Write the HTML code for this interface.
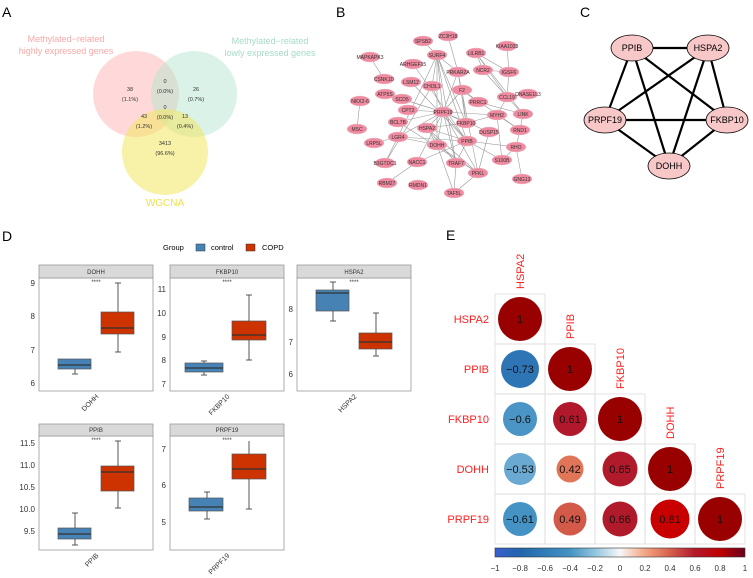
<!DOCTYPE html>
<html><head><meta charset="utf-8"><style>
html,body{margin:0;padding:0;background:#fff}
svg{display:block;font-family:"Liberation Sans",Arial,sans-serif}
</style></head><body>
<svg width="753" height="578" viewBox="0 0 753 578" xmlns="http://www.w3.org/2000/svg">
<g font-size="14" fill="#000">
<text x="2" y="17">A</text><text x="336" y="17">B</text><text x="580" y="17">C</text>
<text x="2" y="241">D</text><text x="446" y="240">E</text>
</g>
<circle cx="136" cy="94" r="43" fill="#ffb3b3" fill-opacity="0.5"/>
<circle cx="194" cy="94" r="43" fill="#b5e6cf" fill-opacity="0.5"/>
<circle cx="165" cy="152" r="43" fill="#f2e660" fill-opacity="0.55"/>
<g font-size="9" text-anchor="middle">
<text x="66" y="42" fill="#f7a9a9">Methylated−related</text>
<text x="66" y="54" fill="#f7a9a9">highly expressed genes</text>
<text x="270" y="44" fill="#a6dcc4">Methylated−related</text>
<text x="270" y="56" fill="#a6dcc4">lowly expressed genes</text>
<text x="165" y="206" fill="#efe04a" font-size="10">WGCNA</text>
</g>
<g font-size="5.5" text-anchor="middle" fill="#333">
<text x="130" y="91">38</text><text x="130" y="101">(1.1%)</text>
<text x="165" y="83">0</text><text x="165" y="93">(0.0%)</text>
<text x="196" y="91">26</text><text x="196" y="101">(0.7%)</text>
<text x="165" y="109">0</text><text x="165" y="119">(0.0%)</text>
<text x="144" y="118">43</text><text x="144" y="128">(1.2%)</text>
<text x="185" y="118">13</text><text x="185" y="128">(0.4%)</text>
<text x="165" y="145">3413</text><text x="165" y="155">(96.6%)</text>
</g>
<g stroke="#999" stroke-width="0.6">
<line x1="370" y1="57" x2="384" y2="79"/><line x1="360" y1="101" x2="357" y2="129"/>
<line x1="443" y1="112" x2="437" y2="55"/><line x1="443" y1="112" x2="432" y2="86"/><line x1="443" y1="112" x2="458" y2="72"/><line x1="443" y1="112" x2="462" y2="90"/><line x1="443" y1="112" x2="408" y2="110"/><line x1="443" y1="112" x2="427" y2="128"/><line x1="443" y1="112" x2="466" y2="123"/><line x1="443" y1="112" x2="467" y2="141"/><line x1="443" y1="112" x2="437" y2="145"/><line x1="443" y1="112" x2="456" y2="163"/><line x1="443" y1="112" x2="478" y2="173"/><line x1="443" y1="112" x2="398" y2="137"/><line x1="443" y1="112" x2="398" y2="122"/><line x1="443" y1="112" x2="497" y2="115"/><line x1="443" y1="112" x2="489" y2="132"/><line x1="443" y1="112" x2="385" y2="94"/><line x1="443" y1="112" x2="402" y2="99"/><line x1="443" y1="112" x2="417" y2="162"/>
<line x1="437" y1="55" x2="458" y2="72"/><line x1="437" y1="55" x2="432" y2="86"/><line x1="437" y1="55" x2="467" y2="141"/><line x1="437" y1="55" x2="456" y2="163"/><line x1="437" y1="55" x2="437" y2="145"/><line x1="437" y1="55" x2="466" y2="123"/><line x1="437" y1="55" x2="398" y2="137"/>
<line x1="448" y1="36" x2="458" y2="72"/><line x1="423" y1="41" x2="437" y2="55"/><line x1="413" y1="64" x2="467" y2="141"/>
<line x1="476" y1="53" x2="483" y2="70"/><line x1="476" y1="53" x2="509" y2="72"/><line x1="476" y1="53" x2="507" y2="97"/><line x1="476" y1="53" x2="523" y2="114"/><line x1="483" y1="70" x2="507" y2="97"/><line x1="483" y1="70" x2="509" y2="72"/><line x1="507" y1="46" x2="509" y2="72"/><line x1="509" y1="72" x2="507" y2="97"/><line x1="507" y1="97" x2="528" y2="94"/><line x1="507" y1="97" x2="523" y2="114"/><line x1="507" y1="97" x2="497" y2="115"/><line x1="523" y1="114" x2="520" y2="130"/><line x1="497" y1="115" x2="520" y2="130"/><line x1="497" y1="115" x2="466" y2="123"/><line x1="520" y1="130" x2="516" y2="147"/><line x1="516" y1="147" x2="467" y2="141"/><line x1="516" y1="147" x2="522" y2="179"/><line x1="516" y1="147" x2="502" y2="160"/><line x1="489" y1="132" x2="478" y2="173"/><line x1="502" y1="160" x2="467" y2="141"/><line x1="478" y1="173" x2="454" y2="193"/><line x1="456" y1="163" x2="454" y2="193"/><line x1="478" y1="173" x2="427" y2="128"/><line x1="456" y1="163" x2="467" y2="141"/><line x1="417" y1="162" x2="387" y2="183"/><line x1="417" y1="162" x2="467" y2="141"/><line x1="398" y1="137" x2="467" y2="141"/><line x1="398" y1="137" x2="385" y2="163"/><line x1="432" y1="86" x2="385" y2="163"/><line x1="411" y1="82" x2="467" y2="141"/><line x1="462" y1="90" x2="478" y2="102"/><line x1="462" y1="90" x2="466" y2="123"/><line x1="462" y1="90" x2="520" y2="130"/><line x1="458" y1="72" x2="466" y2="123"/><line x1="458" y1="72" x2="478" y2="173"/><line x1="478" y1="102" x2="523" y2="114"/><line x1="427" y1="128" x2="437" y2="145"/><line x1="427" y1="128" x2="467" y2="141"/><line x1="427" y1="128" x2="466" y2="123"/><line x1="437" y1="145" x2="478" y2="173"/><line x1="437" y1="145" x2="454" y2="193"/><line x1="398" y1="122" x2="478" y2="173"/><line x1="398" y1="137" x2="437" y2="145"/><line x1="502" y1="160" x2="497" y2="115"/><line x1="427" y1="128" x2="456" y2="163"/><line x1="374" y1="143" x2="398" y2="137"/>
</g>
<g fill="#f08aa0" stroke="#e8c0c8" stroke-width="0.5">
<ellipse cx="448" cy="36" rx="10" ry="5"/><ellipse cx="423" cy="41" rx="10" ry="5"/><ellipse cx="370" cy="57" rx="10" ry="5"/><ellipse cx="437" cy="55" rx="10" ry="5"/><ellipse cx="476" cy="53" rx="10" ry="5"/><ellipse cx="507" cy="46" rx="10" ry="5"/><ellipse cx="413" cy="64" rx="10" ry="5"/><ellipse cx="458" cy="72" rx="10" ry="5"/><ellipse cx="483" cy="70" rx="10" ry="5"/><ellipse cx="509" cy="72" rx="10" ry="5"/><ellipse cx="384" cy="79" rx="10" ry="5"/><ellipse cx="411" cy="82" rx="10" ry="5"/><ellipse cx="432" cy="86" rx="10" ry="5"/><ellipse cx="462" cy="90" rx="10" ry="5"/><ellipse cx="385" cy="94" rx="10" ry="5"/><ellipse cx="402" cy="99" rx="10" ry="5"/><ellipse cx="507" cy="97" rx="10" ry="5"/><ellipse cx="528" cy="94" rx="10" ry="5"/><ellipse cx="360" cy="101" rx="10" ry="5"/><ellipse cx="478" cy="102" rx="10" ry="5"/><ellipse cx="408" cy="110" rx="10" ry="5"/><ellipse cx="443" cy="112" rx="10" ry="5"/><ellipse cx="497" cy="115" rx="10" ry="5"/><ellipse cx="523" cy="114" rx="10" ry="5"/><ellipse cx="398" cy="122" rx="10" ry="5"/><ellipse cx="466" cy="123" rx="10" ry="5"/><ellipse cx="427" cy="128" rx="10" ry="5"/><ellipse cx="489" cy="132" rx="10" ry="5"/><ellipse cx="520" cy="130" rx="10" ry="5"/><ellipse cx="357" cy="129" rx="10" ry="5"/><ellipse cx="398" cy="137" rx="10" ry="5"/><ellipse cx="467" cy="141" rx="10" ry="5"/><ellipse cx="437" cy="145" rx="10" ry="5"/><ellipse cx="374" cy="143" rx="10" ry="5"/><ellipse cx="516" cy="147" rx="10" ry="5"/><ellipse cx="502" cy="160" rx="10" ry="5"/><ellipse cx="385" cy="163" rx="10" ry="5"/><ellipse cx="417" cy="162" rx="10" ry="5"/><ellipse cx="456" cy="163" rx="10" ry="5"/><ellipse cx="478" cy="173" rx="10" ry="5"/><ellipse cx="522" cy="179" rx="10" ry="5"/><ellipse cx="387" cy="183" rx="10" ry="5"/><ellipse cx="418" cy="185" rx="10" ry="5"/><ellipse cx="454" cy="193" rx="10" ry="5"/>
</g>
<g font-size="5" fill="#333" text-anchor="middle">
<text x="448" y="38">ZC3H18</text><text x="423" y="43">SPSB2</text><text x="370" y="59">MAPKAPK3</text><text x="437" y="57">SURF4</text><text x="476" y="55">LILRB1</text><text x="507" y="48">KIAA1033</text><text x="413" y="66">ARHGEF15</text><text x="458" y="74">PRKAR2A</text><text x="483" y="72">NCR2</text><text x="509" y="74">IGSF6</text><text x="384" y="81">CSNK1D</text><text x="411" y="84">LSM12</text><text x="432" y="88">CHI3L1</text><text x="462" y="92">F2</text><text x="385" y="96">ATP5S</text><text x="402" y="101">SCD5</text><text x="507" y="99">CCL19</text><text x="528" y="96">DNASE1L3</text><text x="360" y="103">NKX2-6</text><text x="478" y="104">PRRC1</text><text x="408" y="112">CPT2</text><text x="443" y="114">PRPF19</text><text x="497" y="117">MYH2</text><text x="523" y="116">LINK</text><text x="398" y="124">BCL7B</text><text x="466" y="125">FKBP10</text><text x="427" y="130">HSPA2</text><text x="489" y="134">DUSP15</text><text x="520" y="132">RND1</text><text x="357" y="131">MSC</text><text x="398" y="139">LGR4</text><text x="467" y="143">PPIB</text><text x="437" y="147">DOHH</text><text x="374" y="145">LRP5L</text><text x="516" y="149">RHO</text><text x="502" y="162">S100B</text><text x="385" y="165">B3GTDC1</text><text x="417" y="164">NACC1</text><text x="456" y="165">TRAF7</text><text x="478" y="175">PFKL</text><text x="522" y="181">GNG13</text><text x="387" y="185">RBM27</text><text x="418" y="187">RMDN1</text><text x="454" y="195">TAF5L</text>
</g>
<g stroke="#000" stroke-width="2.2">
<line x1="632" y1="48" x2="708" y2="48"/><line x1="632" y1="48" x2="605" y2="120"/><line x1="632" y1="48" x2="727" y2="120"/><line x1="632" y1="48" x2="669" y2="166"/><line x1="708" y1="48" x2="605" y2="120"/><line x1="708" y1="48" x2="727" y2="120"/><line x1="708" y1="48" x2="669" y2="166"/><line x1="605" y1="120" x2="727" y2="120"/><line x1="605" y1="120" x2="669" y2="166"/><line x1="727" y1="120" x2="669" y2="166"/>
</g>
<g fill="#f8c8c8" stroke="#000" stroke-width="0.8">
<ellipse cx="632" cy="48" rx="21" ry="13"/><ellipse cx="708" cy="48" rx="21" ry="13"/><ellipse cx="605" cy="120" rx="21" ry="13"/><ellipse cx="727" cy="120" rx="21" ry="13"/><ellipse cx="669" cy="166" rx="21" ry="13"/>
</g>
<g font-size="9" text-anchor="middle" fill="#000">
<text x="632" y="51">PPIB</text><text x="708" y="51">HSPA2</text><text x="605" y="123">PRPF19</text><text x="727" y="123">FKBP10</text><text x="669" y="169">DOHH</text>
</g>
<g font-size="7.5" fill="#000">
<text x="163" y="250">Group</text>
<rect x="196" y="244" width="9" height="7" fill="#4682b4" stroke="#333" stroke-width="0.5"/>
<text x="211" y="250">control</text>
<rect x="246" y="244" width="9" height="7" fill="#cc3300" stroke="#333" stroke-width="0.5"/>
<text x="262" y="250">COPD</text>
</g>
<g fill="none" stroke="#999" stroke-width="0.8">
<rect x="39" y="278" width="114" height="113"/><rect x="170" y="278" width="114" height="113"/><rect x="297" y="278" width="114" height="113"/>
<rect x="39" y="436" width="114" height="114"/><rect x="170" y="436" width="114" height="114"/>
</g>
<g fill="#d9d9d9" stroke="#999" stroke-width="0.8">
<rect x="39" y="265" width="114" height="13"/><rect x="170" y="265" width="114" height="13"/><rect x="297" y="265" width="114" height="13"/>
<rect x="39" y="424" width="114" height="12"/><rect x="170" y="424" width="114" height="12"/>
</g>
<g font-size="6" fill="#333" text-anchor="middle">
<text x="96" y="274">DOHH</text><text x="227" y="274">FKBP10</text><text x="354" y="274">HSPA2</text>
<text x="96" y="432">PPIB</text><text x="227" y="432">PRPF19</text>
<text x="96" y="284">****</text><text x="227" y="284">****</text><text x="354" y="284">****</text>
<text x="96" y="442">****</text><text x="227" y="442">****</text>
</g>
<g font-size="8" fill="#333" text-anchor="end">
<text x="35" y="286">9</text><text x="35" y="319">8</text><text x="35" y="353">7</text><text x="35" y="386">6</text>
<text x="166" y="292">11</text><text x="166" y="316">10</text><text x="166" y="340">9</text><text x="166" y="363">8</text><text x="166" y="387">7</text>
<text x="293" y="312">8</text><text x="293" y="345">7</text><text x="293" y="377">6</text>
<text x="35" y="446">11.5</text><text x="35" y="468">11.0</text><text x="35" y="490">10.5</text><text x="35" y="512">10.0</text><text x="35" y="534">9.5</text>
<text x="166" y="452">7</text><text x="166" y="488">6</text><text x="166" y="525">5</text>
</g>
<g font-size="7" fill="#333" text-anchor="end">
<text transform="translate(99,397) rotate(-45)">DOHH</text>
<text transform="translate(230,397) rotate(-45)">FKBP10</text>
<text transform="translate(357,397) rotate(-45)">HSPA2</text>
<text transform="translate(99,556) rotate(-45)">PPIB</text>
<text transform="translate(230,556) rotate(-45)">PRPF19</text>
</g>
<g stroke="#444" stroke-width="0.9">
<line x1="75" y1="359" x2="75" y2="374"/><line x1="118" y1="283" x2="118" y2="352"/>
<line x1="204" y1="361" x2="204" y2="375"/><line x1="249" y1="295" x2="249" y2="360"/>
<line x1="333" y1="282" x2="333" y2="321"/><line x1="376" y1="313" x2="376" y2="356"/>
<line x1="75" y1="513" x2="75" y2="545"/><line x1="118" y1="441" x2="118" y2="508"/>
<line x1="207" y1="492" x2="207" y2="519"/><line x1="249" y1="441" x2="249" y2="509"/>
<line x1="72" y1="374" x2="78" y2="374"/><line x1="115" y1="283" x2="121" y2="283"/><line x1="115" y1="352" x2="121" y2="352"/>
<line x1="201" y1="361" x2="207" y2="361"/><line x1="201" y1="375" x2="207" y2="375"/><line x1="246" y1="295" x2="252" y2="295"/><line x1="246" y1="360" x2="252" y2="360"/>
<line x1="330" y1="282" x2="336" y2="282"/><line x1="330" y1="321" x2="336" y2="321"/><line x1="373" y1="313" x2="379" y2="313"/><line x1="373" y1="356" x2="379" y2="356"/>
<line x1="72" y1="513" x2="78" y2="513"/><line x1="72" y1="545" x2="78" y2="545"/><line x1="115" y1="441" x2="121" y2="441"/><line x1="115" y1="508" x2="121" y2="508"/>
<line x1="204" y1="492" x2="210" y2="492"/><line x1="204" y1="519" x2="210" y2="519"/><line x1="246" y1="509" x2="252" y2="509"/>
</g>
<g stroke="#555" stroke-width="0.7">
<rect x="58" y="359" width="33" height="10" fill="#4682b4"/><rect x="101" y="312" width="33" height="22" fill="#cc3300"/>
<rect x="185" y="363" width="38" height="9" fill="#4682b4"/><rect x="232" y="321" width="34" height="19" fill="#cc3300"/>
<rect x="316" y="290" width="33" height="21" fill="#4682b4"/><rect x="359" y="333" width="33" height="16" fill="#cc3300"/>
<rect x="58" y="528" width="33" height="11" fill="#4682b4"/><rect x="101" y="466" width="33" height="25" fill="#cc3300"/>
<rect x="189" y="498" width="34" height="13" fill="#4682b4"/><rect x="232" y="454" width="34" height="25" fill="#cc3300"/>
</g>
<g stroke="#333" stroke-width="1.3">
<line x1="58" y1="365" x2="91" y2="365"/><line x1="101" y1="328" x2="134" y2="328"/>
<line x1="185" y1="368" x2="223" y2="368"/><line x1="232" y1="335" x2="266" y2="335"/>
<line x1="316" y1="293" x2="349" y2="293"/><line x1="359" y1="342" x2="392" y2="342"/>
<line x1="58" y1="534" x2="91" y2="534"/><line x1="101" y1="472" x2="134" y2="472"/>
<line x1="189" y1="507" x2="223" y2="507"/><line x1="232" y1="469" x2="266" y2="469"/>
</g>
<defs><linearGradient id="cb" x1="0" x2="1" y1="0" y2="0">
<stop offset="0" stop-color="#3a5fcd"/><stop offset="0.1" stop-color="#2166ac"/><stop offset="0.3" stop-color="#4393c3"/><stop offset="0.4" stop-color="#92c5de"/><stop offset="0.5" stop-color="#f7f7f7"/><stop offset="0.6" stop-color="#f4a582"/><stop offset="0.7" stop-color="#d6604d"/><stop offset="0.8" stop-color="#b2182b"/><stop offset="0.9" stop-color="#c00000"/><stop offset="1" stop-color="#67001f"/>
</linearGradient></defs>
<g fill="none" stroke="#ddd" stroke-width="0.8">
<rect x="495" y="294" width="50" height="50"/>
<rect x="495" y="344" width="50" height="50"/><rect x="545" y="344" width="50" height="50"/>
<rect x="495" y="394" width="50" height="50"/><rect x="545" y="394" width="50" height="50"/><rect x="595" y="394" width="50" height="50"/>
<rect x="495" y="444" width="50" height="50"/><rect x="545" y="444" width="50" height="50"/><rect x="595" y="444" width="50" height="50"/><rect x="645" y="444" width="50" height="50"/>
<rect x="495" y="494" width="50" height="50"/><rect x="545" y="494" width="50" height="50"/><rect x="595" y="494" width="50" height="50"/><rect x="645" y="494" width="50" height="50"/><rect x="695" y="494" width="50" height="50"/>
</g>
<circle cx="520" cy="319" r="22" fill="#990000"/>
<circle cx="520" cy="369" r="19" fill="#2e75b6"/><circle cx="570" cy="369" r="22" fill="#990000"/>
<circle cx="520" cy="419" r="17" fill="#4a95c6"/><circle cx="570" cy="419" r="17" fill="#b2182b"/><circle cx="620" cy="419" r="22" fill="#990000"/>
<circle cx="520" cy="469" r="16" fill="#6aaad2"/><circle cx="570" cy="469" r="13.5" fill="#e07558"/><circle cx="620" cy="469" r="17.5" fill="#b01a2a"/><circle cx="670" cy="469" r="22" fill="#990000"/>
<circle cx="520" cy="519" r="17" fill="#4593c4"/><circle cx="570" cy="519" r="16.5" fill="#d35a48"/><circle cx="620" cy="519" r="17.5" fill="#b01a2a"/><circle cx="670" cy="519" r="19.5" fill="#c80000"/><circle cx="720" cy="519" r="22" fill="#990000"/>
<g font-size="11" fill="#111" text-anchor="middle">
<text x="520" y="323">1</text>
<text x="520" y="373">−0.73</text><text x="570" y="373">1</text>
<text x="520" y="423">−0.6</text><text x="570" y="423">0.61</text><text x="620" y="423">1</text>
<text x="520" y="473">−0.53</text><text x="570" y="473">0.42</text><text x="620" y="473">0.65</text><text x="670" y="473">1</text>
<text x="520" y="523">−0.61</text><text x="570" y="523">0.49</text><text x="620" y="523">0.66</text><text x="670" y="523">0.81</text><text x="720" y="523">1</text>
</g>
<g font-size="11" fill="#ff2020" text-anchor="end">
<text x="489" y="323">HSPA2</text><text x="489" y="373">PPIB</text><text x="489" y="423">FKBP10</text><text x="489" y="473">DOHH</text><text x="489" y="523">PRPF19</text>
<text transform="translate(524,289) rotate(-90)" text-anchor="start">HSPA2</text>
<text transform="translate(574,339) rotate(-90)" text-anchor="start">PPIB</text>
<text transform="translate(624,389) rotate(-90)" text-anchor="start">FKBP10</text>
<text transform="translate(674,439) rotate(-90)" text-anchor="start">DOHH</text>
<text transform="translate(724,489) rotate(-90)" text-anchor="start">PRPF19</text>
</g>
<rect x="495" y="548" width="250" height="9" fill="url(#cb)" stroke="#333" stroke-width="0.6"/>
<g font-size="8" fill="#333" text-anchor="middle">
<text x="495" y="571">−1</text><text x="520" y="571">−0.8</text><text x="545" y="571">−0.6</text><text x="570" y="571">−0.4</text><text x="595" y="571">−0.2</text><text x="620" y="571">0</text><text x="645" y="571">0.2</text><text x="670" y="571">0.4</text><text x="695" y="571">0.6</text><text x="720" y="571">0.8</text><text x="745" y="571">1</text>
</g>
</svg>
</body></html>
